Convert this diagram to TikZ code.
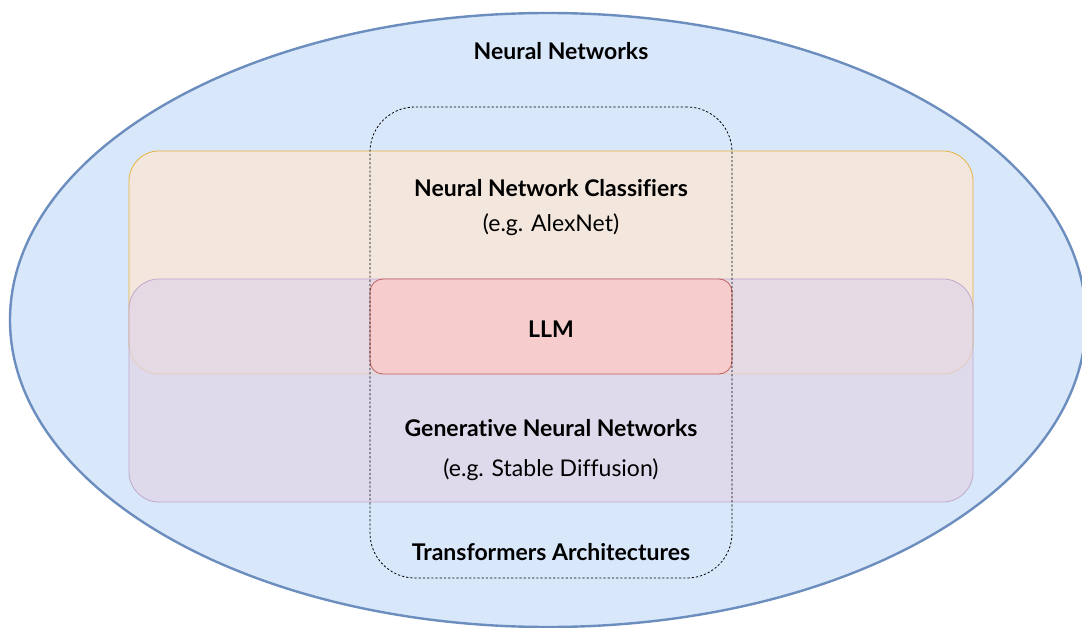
\documentclass[tikz,border=0pt]{standalone}
\usepackage{fontspec}
\setmainfont{Lato}[Ligatures=NoCommon]
\usetikzlibrary{shapes.geometric}
\definecolor{nnfill}{HTML}{D9E7FA}
\definecolor{nndraw}{HTML}{6C8EBF}
\definecolor{clsfill}{HTML}{F3E6DC}
\definecolor{clsdraw}{HTML}{E6B440}
\definecolor{genfill}{HTML}{E1D5E7}
\definecolor{gendraw}{HTML}{B89CC8}
\definecolor{llmfill}{HTML}{F6CDCC}
\definecolor{llmdraw}{HTML}{C0605C}
\tikzset{
  box/.style={rectangle, inner sep=0pt, outer sep=0pt, line width=0.8pt},
  lbl/.style={font=\fontsize{23}{26}\selectfont\bfseries, inner sep=0pt},
  sub/.style={font=\fontsize{23}{26}\selectfont, inner sep=0pt},
}
\begin{document}
\begin{tikzpicture}[x=1pt,y=-1pt]
\useasboundingbox (0,0) rectangle (1082,628);
\fill[white] (0,0) rectangle (1082,628);
\begin{scope}
\clip (0,0) rectangle (1082,628);
\node[ellipse, draw=nndraw, fill=nnfill, line width=2.4pt, inner sep=0pt,
      minimum width=1076pt, minimum height=614pt] (nn) at (548,320) {};
\end{scope}
\node[box, rounded corners=30pt, draw=clsdraw, fill=clsfill,
      minimum width=844pt, minimum height=223pt] (cls) at (551,262.5) {};
\node[box, rounded corners=30pt, draw=gendraw, fill=genfill, fill opacity=0.75, draw opacity=0.8,
      minimum width=844pt, minimum height=223pt] (gen) at (551,390.5) {};
\node[box, rounded corners=13pt, draw=llmdraw, fill=llmfill,
      minimum width=362pt, minimum height=95pt] (llm) at (551,326.5) {};
\node[box, rounded corners=45pt, draw=black, dash pattern=on 2.2pt off 2pt,
      minimum width=362pt, minimum height=471pt] (tr) at (551,342.5) {};
\node[lbl] (tnn) at (561,51) {Neural Networks};
\node[lbl] (tcls) at (551,188) {Neural Network Classifiers};
\node[sub] (tcls2) at (551,225) {(e.g. AlexNet)};
\node[lbl] (tllm) at (551,329) {LLM};
\node[lbl] (tgen) at (551,428) {Generative Neural Networks};
\node[sub] (tgen2) at (551,470) {(e.g. Stable Diffusion)};
\node[lbl] (ttr) at (551,552) {Transformers Architectures};
\end{tikzpicture}
\end{document}
